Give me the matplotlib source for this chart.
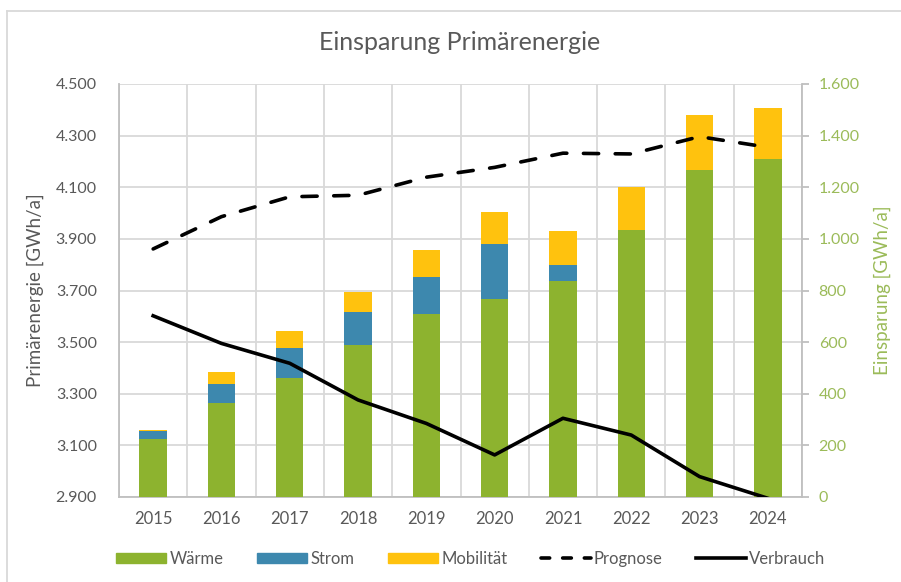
import matplotlib.pyplot as plt
import numpy as np
from matplotlib.ticker import FuncFormatter, FixedLocator
from matplotlib.lines import Line2D
from matplotlib.patches import Patch

plt.rcParams['font.family'] = ['Lato', 'DejaVu Sans']

years = ['2015', '2016', '2017', '2018', '2019', '2020', '2021', '2022', '2023', '2024']
waerme = [225, 365, 462, 590, 709, 767, 838, 1036, 1268, 1309]
strom = [30, 72, 114, 126, 143, 213, 62, 0, 0, 0]
mobil = [4, 47, 66, 77, 104, 125, 129, 165, 211, 198]
prognose = [3861, 3986, 4063, 4069, 4139, 4177, 4232, 4229, 4296, 4255]
verbrauch = [3602, 3495, 3418, 3276, 3185, 3063, 3205, 3140, 2979, 2895]

c_w = '#8DB32F'
c_s = '#3D88AE'
c_m = '#FFC20E'
grey = '#595959'
green_txt = '#9BBB59'
gridc = '#D9D9D9'

def de(v, pos):
    return f"{v:,.0f}".replace(",", ".")

fig = plt.figure(figsize=(9.01, 5.82), dpi=100)
ax = fig.add_axes([119/901, 1-497/582, (802-119)/901, (497-84)/582])
ax2 = ax.twinx()

# bars on secondary scale (right), drawn on the lower axes
x = np.arange(len(years))
w = 0.4
ax.bar(x, waerme, w, color=c_w, zorder=3)
ax.bar(x, strom, w, bottom=waerme, color=c_s, zorder=3)
ax.bar(x, mobil, w, bottom=np.array(waerme)+np.array(strom), color=c_m, zorder=3)
ax.set_ylim(0, 1600)
ax.set_xlim(-0.5, len(years)-0.5)
ax.yaxis.set_major_locator(FixedLocator(np.arange(0, 1601, 200)))
ax.yaxis.set_major_formatter(FuncFormatter(de))
ax.yaxis.tick_right()
ax.yaxis.set_label_position('right')
ax.tick_params(axis='y', labelcolor=green_txt, color='#BFBFBF', labelsize=11.5,
               length=5, width=1.3, pad=7)
ax.set_xticks(x)
ax.set_xticklabels(years)
ax.xaxis.set_minor_locator(FixedLocator(np.arange(-0.5, len(years), 1)))
ax.tick_params(axis='x', which='both', length=0, labelsize=12, labelcolor=grey, pad=10)
ax.grid(True, axis='y', color=gridc, lw=1.3, zorder=0)
ax.grid(True, axis='x', which='minor', color=gridc, lw=1.3, zorder=0)
ax.set_ylabel('Einsparung [GWh/a]', color=green_txt, fontsize=13.5, labelpad=10)
ax.spines['top'].set_visible(False)
for s in ['left', 'right', 'bottom']:
    ax.spines[s].set_color('#BFBFBF')
    ax.spines[s].set_linewidth(1.3)

# lines on primary scale (left)
ax2.plot(x, prognose, color='black', lw=2.6, dashes=(4.2, 4.6), dash_capstyle='round')
ax2.plot(x, verbrauch, color='black', lw=2.6)
ax2.set_ylim(2900, 4500)
ax2.yaxis.set_major_locator(FixedLocator(np.arange(2900, 4501, 200)))
ax2.yaxis.set_major_formatter(FuncFormatter(de))
ax2.yaxis.tick_left()
ax2.yaxis.set_label_position('left')
ax2.tick_params(axis='y', labelcolor=grey, labelsize=11.5, length=0, pad=16)
ax2.set_ylabel('Primärenergie [GWh/a]', color=grey, fontsize=13.5, labelpad=8)
for s in ax2.spines.values():
    s.set_visible(False)

fig.text(460/901, 1-43/582, 'Einsparung Primärenergie', ha='center', va='center',
         fontsize=18, color=grey)

handles = [Patch(color=c_w), Patch(color=c_s), Patch(color=c_m),
           Line2D([], [], color='black', lw=2.6, dashes=(2.4, 3.6), dash_capstyle='round'),
           Line2D([], [], color='black', lw=2.6)]
labels = ['Wärme', 'Strom', 'Mobilität', 'Prognose', 'Verbrauch']
leg = fig.legend(handles, labels, loc='center', bbox_to_anchor=(471/901, 1-559/582),
                 ncol=5, frameon=False, fontsize=12, handlelength=3.0, handleheight=0.6,
                 columnspacing=2.0, handletextpad=0.2)
for t in leg.get_texts():
    t.set_color(grey)

fig.add_artist(Line2D([7/901, 7/901], [0, 1-11/582], color='#D9D9D9', lw=1.3))
fig.add_artist(Line2D([7/901, 1], [1-11/582, 1-11/582], color='#D9D9D9', lw=1.3))

fig.savefig('out.png', dpi=100)
